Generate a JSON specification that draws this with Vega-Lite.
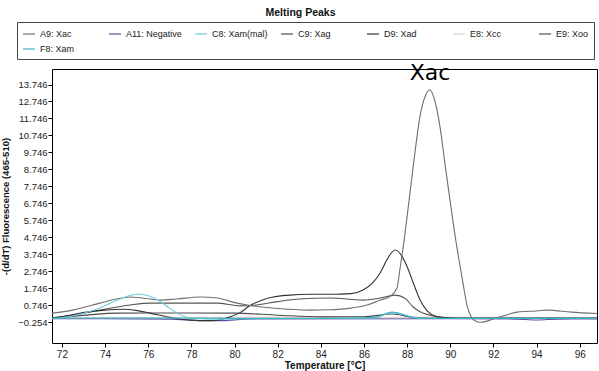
{
"$schema":"https://vega.github.io/schema/vega-lite/v6.json",
"width":545,"height":274,
"autosize":{"type":"none"},
"padding":{"left":52,"top":69,"right":2,"bottom":28},
"background":"white",
"title":{"text":"Melting Peaks","font":"Liberation Sans","fontSize":10.5,"fontWeight":"bold","color":"#111","anchor":"middle","dx":-24,"offset":3},
"config":{"view":{"stroke":"#000","strokeWidth":1},
"axis":{"grid":false,"domain":false,"tickColor":"#000","tickSize":4,"labelFont":"Liberation Sans","labelColor":"#222","titleFont":"Liberation Sans","titleFontWeight":"bold","titleColor":"#111","labelOverlap":false}},
"datasets":{"curves":[
{"s":"E8: Xcc","t":71.54,"v":0.0},{"s":"E8: Xcc","t":80,"v":0.02},{"s":"E8: Xcc","t":88,"v":0.03},{"s":"E8: Xcc","t":96.8,"v":0.0},
{"s":"A11: Negative","t":71.54,"v":-0.06},{"s":"A11: Negative","t":77,"v":-0.08},{"s":"A11: Negative","t":78.5,"v":-0.17},{"s":"A11: Negative","t":79.5,"v":-0.17},{"s":"A11: Negative","t":80.5,"v":-0.08},{"s":"A11: Negative","t":90,"v":-0.06},{"s":"A11: Negative","t":93,"v":-0.08},{"s":"A11: Negative","t":94,"v":-0.13},{"s":"A11: Negative","t":95,"v":-0.08},{"s":"A11: Negative","t":96.8,"v":-0.07},
{"s":"C9: Xag","t":71.54,"v":0.0},{"s":"C9: Xag","t":72.5,"v":0.08},{"s":"C9: Xag","t":73.5,"v":0.2},{"s":"C9: Xag","t":74.55,"v":0.27},{"s":"C9: Xag","t":76,"v":0.28},{"s":"C9: Xag","t":78,"v":0.28},{"s":"C9: Xag","t":80,"v":0.27},{"s":"C9: Xag","t":82,"v":0.15},{"s":"C9: Xag","t":84,"v":0.05},{"s":"C9: Xag","t":86,"v":0.06},{"s":"C9: Xag","t":87.3,"v":0.22},{"s":"C9: Xag","t":88.4,"v":0.0},{"s":"C9: Xag","t":90,"v":-0.04},{"s":"C9: Xag","t":96.8,"v":-0.04},
{"s":"E9: Xoo","t":71.54,"v":-0.02},{"s":"E9: Xoo","t":72.5,"v":0.15},{"s":"E9: Xoo","t":73.76,"v":0.45},{"s":"E9: Xoo","t":75.16,"v":0.75},{"s":"E9: Xoo","t":76.08,"v":0.86},{"s":"E9: Xoo","t":77.61,"v":0.86},{"s":"E9: Xoo","t":79.19,"v":0.86},{"s":"E9: Xoo","t":80.26,"v":0.7},{"s":"E9: Xoo","t":81,"v":0.75},{"s":"E9: Xoo","t":82,"v":0.95},{"s":"E9: Xoo","t":83,"v":1.1},{"s":"E9: Xoo","t":84.43,"v":1.16},{"s":"E9: Xoo","t":85.96,"v":1.04},{"s":"E9: Xoo","t":86.75,"v":1.16},{"s":"E9: Xoo","t":87.44,"v":1.33},{"s":"E9: Xoo","t":87.9,"v":1.15},{"s":"E9: Xoo","t":88.28,"v":0.63},{"s":"E9: Xoo","t":88.6,"v":0.35},{"s":"E9: Xoo","t":89.06,"v":0.15},{"s":"E9: Xoo","t":89.5,"v":0.02},{"s":"E9: Xoo","t":90,"v":-0.03},{"s":"E9: Xoo","t":96.8,"v":-0.03},
{"s":"D9: Xad","t":71.54,"v":0.0},{"s":"D9: Xad","t":72.2,"v":0.12},{"s":"D9: Xad","t":72.98,"v":0.3},{"s":"D9: Xad","t":74.0,"v":0.45},{"s":"D9: Xad","t":74.83,"v":0.5},{"s":"D9: Xad","t":75.5,"v":0.42},{"s":"D9: Xad","t":76.08,"v":0.27},{"s":"D9: Xad","t":77.0,"v":0.02},{"s":"D9: Xad","t":77.94,"v":-0.14},{"s":"D9: Xad","t":78.87,"v":-0.17},{"s":"D9: Xad","t":79.4,"v":-0.1},{"s":"D9: Xad","t":79.8,"v":0.05},{"s":"D9: Xad","t":80.26,"v":0.3},{"s":"D9: Xad","t":80.72,"v":0.72},{"s":"D9: Xad","t":81.3,"v":1.05},{"s":"D9: Xad","t":81.79,"v":1.22},{"s":"D9: Xad","t":82.57,"v":1.33},{"s":"D9: Xad","t":83.5,"v":1.38},{"s":"D9: Xad","t":84.89,"v":1.39},{"s":"D9: Xad","t":85.4,"v":1.42},{"s":"D9: Xad","t":85.96,"v":1.63},{"s":"D9: Xad","t":86.4,"v":2.05},{"s":"D9: Xad","t":86.75,"v":2.64},{"s":"D9: Xad","t":87.1,"v":3.5},{"s":"D9: Xad","t":87.44,"v":3.99},{"s":"D9: Xad","t":87.77,"v":3.6},{"s":"D9: Xad","t":88.0,"v":3.0},{"s":"D9: Xad","t":88.3,"v":2.0},{"s":"D9: Xad","t":88.6,"v":1.04},{"s":"D9: Xad","t":88.9,"v":0.45},{"s":"D9: Xad","t":89.2,"v":0.15},{"s":"D9: Xad","t":89.67,"v":0.02},{"s":"D9: Xad","t":90.5,"v":-0.04},{"s":"D9: Xad","t":96.8,"v":-0.04},
{"s":"A9: Xac","t":71.54,"v":0.27},{"s":"A9: Xac","t":72.5,"v":0.45},{"s":"A9: Xac","t":73.76,"v":0.86},{"s":"A9: Xac","t":74.5,"v":1.1},{"s":"A9: Xac","t":75.16,"v":1.22},{"s":"A9: Xac","t":75.8,"v":1.15},{"s":"A9: Xac","t":76.55,"v":1.04},{"s":"A9: Xac","t":77.3,"v":1.1},{"s":"A9: Xac","t":78.4,"v":1.22},{"s":"A9: Xac","t":79.19,"v":1.16},{"s":"A9: Xac","t":80.12,"v":0.86},{"s":"A9: Xac","t":80.72,"v":0.72},{"s":"A9: Xac","t":81.5,"v":0.6},{"s":"A9: Xac","t":82.5,"v":0.5},{"s":"A9: Xac","t":83.5,"v":0.45},{"s":"A9: Xac","t":84.43,"v":0.47},{"s":"A9: Xac","t":85.3,"v":0.55},{"s":"A9: Xac","t":86.14,"v":0.75},{"s":"A9: Xac","t":86.75,"v":1.04},{"s":"A9: Xac","t":87.2,"v":1.25},{"s":"A9: Xac","t":87.53,"v":1.75},{"s":"A9: Xac","t":87.67,"v":2.9},{"s":"A9: Xac","t":87.81,"v":4.1},{"s":"A9: Xac","t":88.05,"v":6.5},{"s":"A9: Xac","t":88.28,"v":8.9},{"s":"A9: Xac","t":88.6,"v":11.9},{"s":"A9: Xac","t":88.85,"v":13.1},{"s":"A9: Xac","t":89.06,"v":13.42},{"s":"A9: Xac","t":89.3,"v":12.7},{"s":"A9: Xac","t":89.53,"v":11.2},{"s":"A9: Xac","t":89.75,"v":9.1},{"s":"A9: Xac","t":89.99,"v":6.9},{"s":"A9: Xac","t":90.25,"v":4.6},{"s":"A9: Xac","t":90.46,"v":3.0},{"s":"A9: Xac","t":90.62,"v":1.8},{"s":"A9: Xac","t":90.78,"v":0.7},{"s":"A9: Xac","t":90.95,"v":0.1},{"s":"A9: Xac","t":91.1,"v":-0.15},{"s":"A9: Xac","t":91.38,"v":-0.27},{"s":"A9: Xac","t":91.7,"v":-0.2},{"s":"A9: Xac","t":91.98,"v":-0.08},{"s":"A9: Xac","t":92.45,"v":0.1},{"s":"A9: Xac","t":93.1,"v":0.33},{"s":"A9: Xac","t":94.0,"v":0.4},{"s":"A9: Xac","t":94.5,"v":0.45},{"s":"A9: Xac","t":95.6,"v":0.33},{"s":"A9: Xac","t":96.8,"v":0.25},
{"s":"C8: Xam(mal)","t":71.54,"v":-0.05},{"s":"C8: Xam(mal)","t":72.5,"v":0.1},{"s":"C8: Xam(mal)","t":73.5,"v":0.45},{"s":"C8: Xam(mal)","t":74.5,"v":1.0},{"s":"C8: Xam(mal)","t":75.0,"v":1.25},{"s":"C8: Xam(mal)","t":75.53,"v":1.4},{"s":"C8: Xam(mal)","t":76.0,"v":1.3},{"s":"C8: Xam(mal)","t":76.5,"v":1.0},{"s":"C8: Xam(mal)","t":77.0,"v":0.55},{"s":"C8: Xam(mal)","t":77.6,"v":0.1},{"s":"C8: Xam(mal)","t":78.2,"v":-0.05},{"s":"C8: Xam(mal)","t":79,"v":-0.08},{"s":"C8: Xam(mal)","t":80.5,"v":-0.06},{"s":"C8: Xam(mal)","t":84,"v":-0.05},{"s":"C8: Xam(mal)","t":86.5,"v":0.0},{"s":"C8: Xam(mal)","t":87.3,"v":0.3},{"s":"C8: Xam(mal)","t":88.2,"v":0.05},{"s":"C8: Xam(mal)","t":88.8,"v":-0.05},{"s":"C8: Xam(mal)","t":96.8,"v":-0.05},
{"s":"F8: Xam","t":71.54,"v":-0.03},{"s":"F8: Xam","t":75,"v":-0.02},{"s":"F8: Xam","t":80,"v":-0.04},{"s":"F8: Xam","t":85,"v":-0.03},{"s":"F8: Xam","t":86.5,"v":0.02},{"s":"F8: Xam","t":87.3,"v":0.33},{"s":"F8: Xam","t":88.3,"v":0.02},{"s":"F8: Xam","t":89,"v":-0.04},{"s":"F8: Xam","t":92,"v":-0.04},{"s":"F8: Xam","t":96.8,"v":-0.04}
]},
"layer":[
{"data":{"name":"curves"},
"mark":{"type":"line","interpolate":"monotone","strokeWidth":1.1},
"encoding":{
"x":{"field":"t","type":"quantitative","scale":{"domain":[71.54,96.8],"nice":false,"zero":false},
"axis":{"values":[72,74,76,78,80,82,84,86,88,90,92,94,96],"tickCount":30,"labelFontSize":10,"labelPadding":2,"title":"Temperature [°C]","titleFontSize":10,"titlePadding":1}},
"y":{"field":"v","type":"quantitative","scale":{"domain":[-1.49,14.66],"nice":false,"zero":false},
"axis":{"values":[-0.254,0.746,1.746,2.746,3.746,4.746,5.746,6.746,7.746,8.746,9.746,10.746,11.746,12.746,13.746],"tickCount":30,"labelOverlap":false,"format":".3f","labelFontSize":9.5,"labelPadding":1,"title":"-(d/dT) Fluorescence (465-510)","titleFontSize":9.5,"titlePadding":7}},
"color":{"field":"s","type":"nominal",
"scale":{"domain":["A9: Xac","A11: Negative","C8: Xam(mal)","C9: Xag","D9: Xad","E8: Xcc","E9: Xoo","F8: Xam"],
"range":["#6f6f6f","#5a50a0","#6ccfe0","#4a4a4a","#333333","#e3cfc0","#555555","#3fb3c8"]},
"legend":{"orient":"none","legendX":-35,"legendY":-47,"direction":"horizontal","columns":7,"title":null,"symbolType":"stroke","symbolSize":144,"symbolStrokeWidth":1.2,"labelFontSize":9,"labelFont":"Liberation Sans","labelColor":"#222","strokeColor":"#444","padding":5,"rowPadding":3,"columnPadding":10,"gridAlign":"all","labelOffset":4}}}},
{"data":{"values":[{"t":89.06,"v":14.0,"label":"Xac"}]},
"mark":{"type":"text","font":"DejaVu Sans","fontSize":22,"baseline":"alphabetic","align":"center","color":"#000"},
"encoding":{"x":{"field":"t","type":"quantitative"},"y":{"field":"v","type":"quantitative"},"text":{"field":"label"}}}
]
}
